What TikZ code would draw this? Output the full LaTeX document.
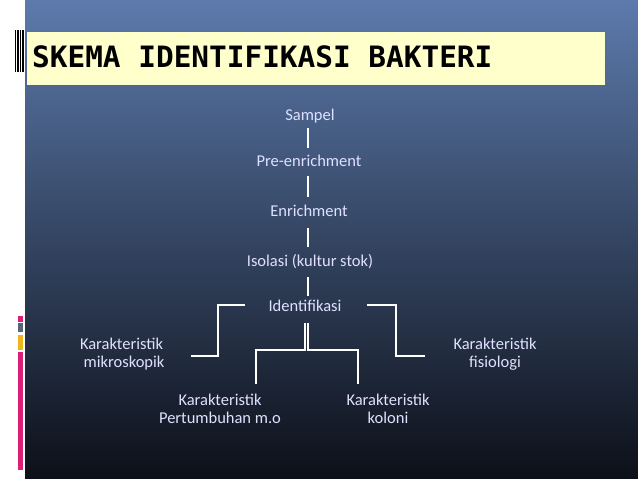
\documentclass[tikz,border=0pt]{standalone}
\usepackage{fontspec}
\setmainfont{Carlito}
\newfontfamily\titlefont{DejaVu Sans Mono}
\usetikzlibrary{positioning}
\definecolor{bgtop}{RGB}{92,122,172}
\definecolor{bgbottom}{RGB}{12,16,24}
\definecolor{barpink}{RGB}{220,30,120}
\definecolor{bargray}{RGB}{90,100,120}
\definecolor{baryellow}{RGB}{240,180,30}
\definecolor{titlefill}{RGB}{255,255,204}
\tikzset{
	skema/.cd,
	step box/.style = {
		text = white!88!blue,
		font = \fontsize{16.5}{18}\selectfont,
		inner sep = 1pt,
		outer sep = 4pt,
		align = center
	},
	link/.style = {
		white,
		line width = 1.2pt
	},
}

\begin{document}
\begin{tikzpicture}[x = 1pt, y = -1pt]
	\useasboundingbox (0, 0) rectangle (638, 479);
	% background
	\fill[white] (0, 0) rectangle (25, 479);
	\shade[top color = bgtop, bottom color = bgbottom] (25, 0) rectangle (638, 479);
	\foreach \x in {15, 17, 18.5, 20, 22, 23.5}{
		\draw[black, line width = 0.8pt] (\x, 30) -- (\x, 72);
	}
	\fill[barpink] (18, 316) rectangle (23, 322);
	\fill[bargray] (18, 323) rectangle (23, 332);
	\fill[baryellow] (18, 335) rectangle (23, 350);
	\fill[barpink] (18, 352) rectangle (23, 470);
	% title
	\node[fill = titlefill, minimum width = 578pt, minimum height = 53pt, anchor = north west, inner sep = 0pt] (titlebox) at (27, 32) {};
	\node[anchor = west, font = \titlefont\bfseries\fontsize{29.4}{32}\selectfont, inner sep = 0pt] (title) at (32, 57) {SKEMA IDENTIFIKASI BAKTERI};
	% chain
	\node[skema/step box] (sampel) at (310, 116) {Sampel};
	\node[skema/step box] (pre) at (309, 161) {Pre-enrichment};
	\node[skema/step box] (enrich) at (309, 211) {Enrichment};
	\node[skema/step box] (isolasi) at (310, 262) {Isolasi (kultur stok)};
	\node[skema/step box] (ident) at (305, 306) {Identifikasi};
	\node[skema/step box, align = left, anchor = west] (mikro) at (75, 354) {Karakteristik\\\ mikroskopik};
	\node[skema/step box] (fisio) at (495, 354) {Karakteristik\\fisiologi};
	\node[skema/step box] (tumbuh) at (220, 409) {Karakteristik\\Pertumbuhan m.o};
	\node[skema/step box] (koloni) at (388, 409) {Karakteristik\\koloni};
	\draw[skema/link] (308, 128) -- (308, 148);
	\draw[skema/link] (308, 176) -- (308, 197);
	\draw[skema/link] (308, 228) -- (308, 247);
	\draw[skema/link] (308, 277) -- (308, 296);
	% branches
	\draw[skema/link] (245, 305) -| (218, 356) -- (191, 356);
	\draw[skema/link] (367, 305) -| (396, 356) -- (425, 356);
	\draw[skema/link] (305, 323) -- (305, 350) -- (256, 350) -- (256, 384);
	\draw[skema/link] (308, 323) -- (308, 350) -- (358, 350) -- (358, 384);
\end{tikzpicture}
\end{document}
